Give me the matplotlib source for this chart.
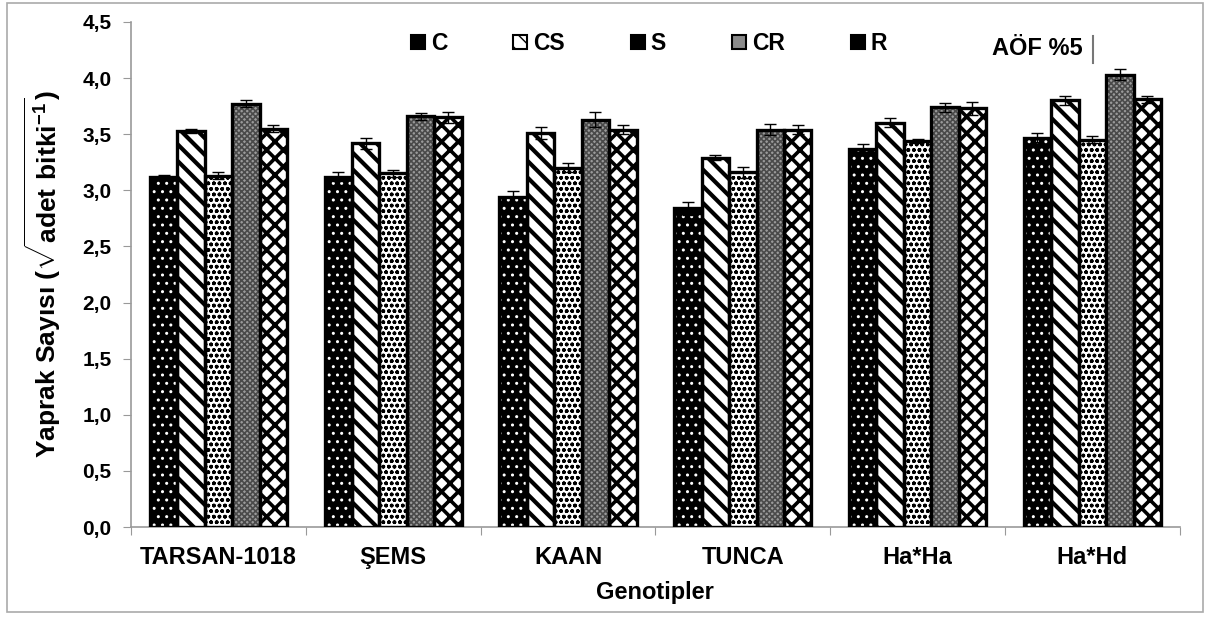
import numpy as np
import matplotlib.pyplot as plt
from matplotlib.patches import Patch

plt.rcParams['font.family'] = ['Liberation Sans', 'DejaVu Sans']
plt.rcParams['font.weight'] = 'bold'
plt.rcParams['mathtext.fontset'] = 'custom'
plt.rcParams['mathtext.rm'] = 'Liberation Sans:bold'
plt.rcParams['mathtext.bf'] = 'Liberation Sans:bold'

# Data
genotypes = ['TARSAN-1018', 'ŞEMS', 'KAAN', 'TUNCA', 'Ha*Ha', 'Ha*Hd']
treatments = ['C', 'CS', 'S', 'CR', 'R']
values = {
    'C':  [3.12, 3.12, 2.94, 2.84, 3.37, 3.47],
    'CS': [3.53, 3.42, 3.51, 3.29, 3.60, 3.80],
    'S':  [3.13, 3.15, 3.20, 3.16, 3.44, 3.45],
    'CR': [3.77, 3.66, 3.63, 3.54, 3.74, 4.03],
    'R':  [3.55, 3.65, 3.54, 3.54, 3.73, 3.81],
}
errors = {
    'C':  [0.02, 0.04, 0.05, 0.06, 0.04, 0.04],
    'CS': [0.02, 0.05, 0.05, 0.02, 0.04, 0.04],
    'S':  [0.03, 0.03, 0.04, 0.05, 0.02, 0.03],
    'CR': [0.03, 0.03, 0.07, 0.05, 0.04, 0.05],
    'R':  [0.03, 0.05, 0.04, 0.04, 0.06, 0.03],
}
yticks = np.arange(0, 4.51, 0.5)

# (face colour, hatch colour, hatch, hatch linewidth)
styles = {
    'C':  ('black', 'white', '..', 1.0),
    'CS': ('white', 'black', '\\\\', 3.0),
    'S':  ('white', 'black', 'ooo', 1.1),
    'CR': ('#9a9a9a', '#4a4a4a', 'xxxxxx', 1.2),
    'R':  ('white', 'black', 'xx', 2.6),
}
legend_faces = {'C': 'black', 'CS': 'white', 'S': 'black', 'CR': '#8a8a8a', 'R': 'black'}

fig = plt.figure(figsize=(12.1, 6.19), dpi=100)
ax = fig.add_axes([0.1083, 0.1486, 0.8667, 0.816])

x = np.arange(len(genotypes))
w = 0.157
for i, t in enumerate(treatments):
    pos = x + (i - 2) * w
    fc, hc, h, hlw = styles[t]
    with plt.rc_context({'hatch.linewidth': hlw}):
        ax.bar(pos, values[t], w, color=fc, edgecolor=hc, hatch=h, linewidth=0, zorder=2)
    ax.bar(pos, values[t], w, fill=False, edgecolor='black', linewidth=2.4, zorder=3)
    ax.errorbar(pos, values[t], yerr=errors[t], fmt='none', ecolor='black',
                elinewidth=1, capsize=4, capthick=1, zorder=4)

ax.set_xlim(-0.5, len(genotypes) - 0.5)
ax.set_ylim(0, 4.5)
ax.set_yticks(yticks)
ax.set_yticklabels([f'{v:.1f}'.replace('.', ',') for v in yticks], fontsize=15, fontweight='bold')
ax.set_xticks(np.arange(-0.5, len(genotypes), 1.0))
ax.set_xticklabels([])
ax.set_xticks(x, minor=True)
ax.set_xticklabels(genotypes, minor=True, fontsize=17, fontweight='bold')
ax.tick_params(axis='x', which='minor', length=0, pad=14)
ax.tick_params(axis='x', which='major', length=6, color='#999999')
ax.tick_params(axis='y', length=6, color='#999999', pad=8)
for s in ['top', 'right']:
    ax.spines[s].set_visible(False)
for s in ['left', 'bottom']:
    ax.spines[s].set_color('#999999')
    ax.spines[s].set_linewidth(1.2)

ax.set_xlabel('Genotipler', fontsize=17, fontweight='bold', labelpad=8)
ax.set_ylabel(r'Yaprak Sayısı ($\sqrt{\mathrm{adet\ bitki^{-1}}}$)', fontsize=19,
              fontweight='bold', labelpad=14)

handles = [Patch(facecolor=legend_faces[t], edgecolor='black', linewidth=1.5,
                 hatch='\\\\' if t == 'CS' else None) for t in treatments]
ax.legend(handles, treatments, ncol=5, frameon=False, loc='center',
          bbox_to_anchor=(0.494, 0.957), handlelength=0.6, handleheight=0.6,
          handletextpad=0.25, columnspacing=2.9, prop={'weight': 'bold', 'size': 16.5})

ax.text(0.907, 0.947, 'AÖF %5', transform=ax.transAxes, ha='right', va='center',
        fontsize=17, fontweight='bold')
ax.plot([0.917, 0.917], [0.918, 0.972], transform=ax.transAxes, color='#777777',
        linewidth=1.5, clip_on=False)

fig.patches.append(plt.Rectangle((0.006, 0.012), 0.988, 0.983, transform=fig.transFigure,
                                 fill=False, edgecolor='#aaaaaa', linewidth=1.2))

fig.savefig('out.png', dpi=100)
